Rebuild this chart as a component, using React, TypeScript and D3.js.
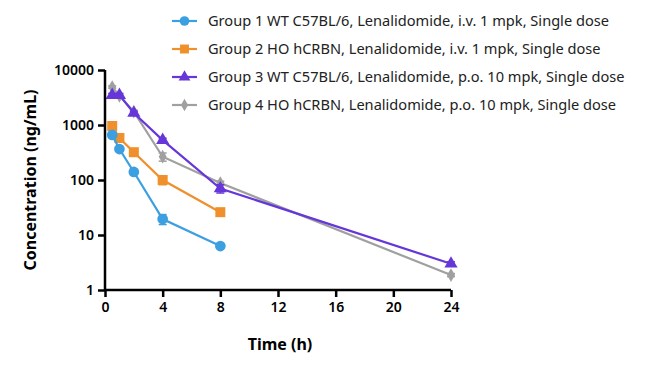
import React, { useEffect, useRef } from 'react';
import * as d3 from 'd3';

const width = 650;
const height = 367;
const margin = { top: 70, right: 199, bottom: 77, left: 105 };

const times1 = [0.5, 1, 2, 4, 8];
const times3 = [0.5, 1, 2, 4, 8, 24];

const group1 = [660, 365, 140, 19.5, 6.3];
const group1Sd = [50, 30, 12, 4, 0.5];
const group2 = [960, 580, 320, 100, 26];
const group2Sd = [70, 45, 25, 18, 2.5];
const group3 = [3500, 3500, 1650, 530, 70, 3.0];
const group3Sd = [250, 250, 120, 45, 12, 0.25];
const group4 = [4900, 3400, 1750, 265, 88, 1.87];
const group4Sd = [250, 250, 120, 45, 7, 0.12];

const seriesNames = [
  'Group 1 WT C57BL/6, Lenalidomide, i.v. 1 mpk, Single dose',
  'Group 2 HO hCRBN, Lenalidomide, i.v. 1 mpk, Single dose',
  'Group 3 WT C57BL/6, Lenalidomide, p.o. 10 mpk, Single dose',
  'Group 4 HO hCRBN, Lenalidomide, p.o. 10 mpk, Single dose'
];

const xTicks = [0, 4, 8, 12, 16, 20, 24];
const yTicks = [1, 10, 100, 1000, 10000];

const colors = ['#3b9fe0', '#f0902c', '#6636d8', '#a0a0a0'];
const symbols = [d3.symbolCircle, d3.symbolSquare, d3.symbolTriangle, d3.symbolDiamond];
const symbolSizes = [90, 100, 75, 55];

const font = '"Noto Sans", "Open Sans", sans-serif';

function App() {
  const ref = useRef<SVGSVGElement>(null);

  useEffect(() => {
    const svg = d3.select(ref.current);
    svg.selectAll('*').remove();

    const w = width - margin.left - margin.right;
    const h = height - margin.top - margin.bottom;

    const x = d3.scaleLinear().domain([0, 24]).range([0, w]);
    const y = d3.scaleLog().domain([1, 10000]).range([h, 0]);

    const g = svg.append('g')
      .attr('transform', 'translate(' + margin.left + ',' + margin.top + ')');

    const series = [
      { t: times1, v: group1, sd: group1Sd },
      { t: times1, v: group2, sd: group2Sd },
      { t: times3, v: group3, sd: group3Sd },
      { t: times3, v: group4, sd: group4Sd }
    ];

    const line = d3.line<[number, number]>()
      .x((d) => x(d[0]))
      .y((d) => y(d[1]));

    // draw back to front so group 1 sits on top
    [3, 2, 1, 0].forEach((i) => {
      const s = series[i];
      const pts = s.t.map((t, j) => [t, s.v[j]] as [number, number]);
      const sg = g.append('g');

      s.t.forEach((t, j) => {
        const hi = s.v[j] + s.sd[j];
        const lo = Math.max(1, s.v[j] - s.sd[j]);
        sg.append('line')
          .attr('x1', x(t)).attr('x2', x(t))
          .attr('y1', y(lo)).attr('y2', y(hi))
          .attr('stroke', colors[i]).attr('stroke-width', 1.5);
        [lo, hi].forEach((e) => {
          sg.append('line')
            .attr('x1', x(t) - 4).attr('x2', x(t) + 4)
            .attr('y1', y(e)).attr('y2', y(e))
            .attr('stroke', colors[i]).attr('stroke-width', 1.5);
        });
      });

      sg.append('path')
        .attr('d', line(pts))
        .attr('fill', 'none')
        .attr('stroke', colors[i])
        .attr('stroke-width', 2.2);

      sg.selectAll('path.pt')
        .data(pts)
        .enter()
        .append('path')
        .attr('class', 'pt')
        .attr('transform', (d) => 'translate(' + x(d[0]) + ',' + y(d[1]) + ')')
        .attr('d', d3.symbol().type(symbols[i]).size(symbolSizes[i])())
        .attr('fill', colors[i]);
    });

    const axisBottom = d3.axisBottom(x).tickValues(xTicks).tickSize(7).tickPadding(5);
    const axisLeft = d3.axisLeft(y).tickValues(yTicks).tickSize(7).tickPadding(4)
      .tickFormat((d) => String(d));

    const ax = g.append('g')
      .attr('transform', 'translate(0,' + h + ')')
      .call(axisBottom);
    const ay = g.append('g').call(axisLeft);

    [ax, ay].forEach((a) => {
      a.selectAll('path').attr('stroke', '#000').attr('stroke-width', 2.5);
      a.selectAll('line').attr('stroke', '#000').attr('stroke-width', 2.5);
      a.selectAll('text')
        .attr('fill', '#000')
        .attr('font-family', font)
        .attr('font-size', 14)
        .attr('font-weight', 600);
    });
    ax.select('.domain').attr('d', 'M0,0H' + w);
    ay.select('.domain').attr('d', 'M0,' + h + 'V0');

    svg.append('text')
      .attr('x', margin.left + w / 2 + 2)
      .attr('y', 350)
      .attr('text-anchor', 'middle')
      .attr('font-family', font)
      .attr('font-size', 16)
      .attr('font-weight', 700)
      .text('Time (h)');

    svg.append('text')
      .attr('transform', 'translate(36,' + (margin.top + h / 2) + ') rotate(-90)')
      .attr('text-anchor', 'middle')
      .attr('font-family', font)
      .attr('font-size', 16)
      .attr('font-weight', 700)
      .text('Concentration (ng/mL)');

    const legend = svg.append('g').attr('transform', 'translate(172,21)');
    seriesNames.forEach((name, i) => {
      const row = legend.append('g').attr('transform', 'translate(0,' + i * 28 + ')');
      row.append('line')
        .attr('x1', 0).attr('x2', 25)
        .attr('stroke', colors[i]).attr('stroke-width', 2.2);
      row.append('path')
        .attr('transform', 'translate(12.5,0)')
        .attr('d', d3.symbol().type(symbols[i]).size(symbolSizes[i] * 0.8)())
        .attr('fill', colors[i]);
      row.append('text')
        .attr('x', 36)
        .attr('dy', '0.35em')
        .attr('font-family', font)
        .attr('font-size', 14.6)
        .attr('fill', '#222')
        .text(name);
    });
  }, []);

  return <svg ref={ref} width={width} height={height} style={{ position: 'absolute', left: 0, top: 0, background: '#fff' }} />;
}

export default App;
